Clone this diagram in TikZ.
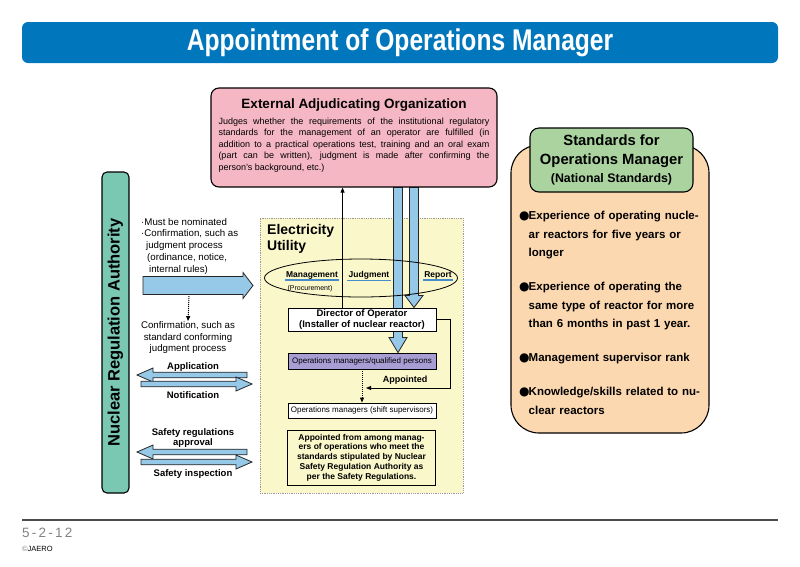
\documentclass[tikz,border=0pt]{standalone}
\usepackage{fontspec}
\setmainfont{Liberation Sans}
\newfontfamily\symfont{DejaVu Sans}
\usetikzlibrary{shapes.geometric, arrows.meta, positioning, calc, backgrounds}
\definecolor{titleBlue}{RGB}{0, 119, 189}
\definecolor{orgPink}{RGB}{245, 183, 195}
\definecolor{nraTeal}{RGB}{122, 199, 178}
\definecolor{utilYellow}{RGB}{250, 247, 202}
\definecolor{qualPurple}{RGB}{168, 158, 212}
\definecolor{stdGreen}{RGB}{170, 211, 160}
\definecolor{stdOrange}{RGB}{252, 216, 176}
\definecolor{flowBlue}{RGB}{150, 200, 232}
\definecolor{lineBlue}{RGB}{70, 140, 200}
\definecolor{footGray}{RGB}{130, 130, 130}

\newcommand{\fsz}[2]{\fontsize{#1}{#2}\selectfont}
% block arrows: from, to, shaft half width, head half width, head length
\newcommand{\fatH}[5]{%
  \draw[fatarrow] let \p1=(#1), \p2=(#2), \n1={sign(\x2-\x1)*#5} in
    (\x1,\y1+#3) -- (\x2-\n1,\y1+#3) -- (\x2-\n1,\y1+#4) -- (\x2,\y1)
    -- (\x2-\n1,\y1-#4) -- (\x2-\n1,\y1-#3) -- (\x1,\y1-#3) -- cycle;}
\newcommand{\fatV}[5]{%
  \draw[fatarrow] let \p1=(#1), \p2=(#2), \n1={sign(\y2-\y1)*#5} in
    (\x1+#3,\y1) -- (\x1+#3,\y2-\n1) -- (\x1+#4,\y2-\n1) -- (\x1,\y2)
    -- (\x1-#4,\y2-\n1) -- (\x1-#3,\y2-\n1) -- (\x1-#3,\y1) -- cycle;}
\newcommand{\stditem}[1]{\par\noindent\hangindent=9.5pt\hangafter=1%
  \makebox[9.5pt][l]{\symfont\fsz{12}{12}●}#1\par}

\tikzset{
    % Boxes
    titlebar/.style={rectangle, rounded corners=6pt, fill=titleBlue,
        minimum width=756pt, minimum height=41pt, text=white,
        font=\fsz{30}{30}\bfseries},
    orgbox/.style={rectangle, rounded corners=8pt, fill=orgPink, draw=black,
        line width=1.1pt, text width=271pt, minimum height=99pt,
        inner xsep=7.5pt, align=justify, font=\fsz{9}{11.5}},
    nrabox/.style={rectangle, rounded corners=5pt, fill=nraTeal, draw=black,
        line width=1.1pt, minimum width=321pt, minimum height=27pt,
        font=\fsz{16.5}{16.5}\bfseries},
    utilbox/.style={rectangle, fill=utilYellow, draw=gray!80, densely dotted,
        line width=0.8pt, minimum width=203pt, minimum height=275pt},
    opbox/.style={rectangle, draw=black, line width=0.9pt, fill=white,
        minimum width=148pt, inner sep=1pt, align=center},
    stdbox/.style={rectangle, rounded corners=28pt, fill=stdOrange, draw=black,
        line width=1.1pt, minimum width=198pt, minimum height=288pt},
    stdhead/.style={rectangle, rounded corners=9pt, fill=stdGreen, draw=black,
        line width=1.1pt, minimum width=163pt, minimum height=64pt,
        align=center, font=\fsz{14.8}{18.5}\bfseries},
    % Labels
    lanelabel/.style={font=\fsz{8.5}{10}\bfseries, inner sep=1pt},
    sidenote/.style={font=\fsz{9.7}{11.7}, inner sep=0pt, align=center},
    sidelabel/.style={font=\fsz{9.5}{10}\bfseries, inner sep=0pt, align=center},
    % Connectors
    fatarrow/.style={fill=flowBlue, draw=black!85, line width=0.8pt, line join=miter},
    thinarrow/.style={-{Triangle[length=5pt, width=4pt]}, line width=0.9pt},
    dotarrow/.style={-{Triangle[length=5pt, width=4pt]}, line width=1pt, densely dotted},
    uline/.style={draw=lineBlue, line width=1.3pt}
}

\begin{document}
\begin{tikzpicture}[x=1pt, y=-1pt]
    \useasboundingbox (0,0) rectangle (800,566);

    % --- Title ---
    \node (title) [titlebar] at (400,42.5)
        {\scalebox{0.82}[1]{Appointment of Operations Manager}};

    % --- External Adjudicating Organization ---
    \node (eao) [orgbox] at (354,137.5) {%
        {\centering\fsz{13.5}{16}\bfseries External Adjudicating Organization\par}
        \vspace{4.5pt}
        Judges whether the requirements of the institutional regulatory\linebreak
        standards for the management of an operator are fulfilled (in\linebreak
        addition to a practical operations test, training and an oral exam\linebreak
        (part can be written), judgment is made after confirming the\linebreak
        person's background, etc.)\par
        \vspace{4pt}\hrule height 0pt};

    % --- Nuclear Regulation Authority ---
    \node (nra) [nrabox, rotate=90] at (115.5,332.5) {Nuclear Regulation Authority};

    % --- Electricity Utility ---
    \node (lane) [ellipse, draw=black, line width=0.8pt,
        minimum width=193pt, minimum height=38pt] at (361,278) {};
    \node (mgmt) [lanelabel] at (312,275) {Management};
    \node (procure) [font=\fsz{7}{8}, inner sep=0pt] at (310,289) {(Procurement)};
    \node (judge) [lanelabel] at (369,275) {Judgment};
    \node (report) [lanelabel] at (438,275) {Report};
    \draw [uline] (mgmt.south west) -- (mgmt.south east);
    \draw [uline] (judge.south west) -- (judge.south east);
    \draw [uline] (report.south west) -- (report.south east);

    \node (director) [opbox, minimum height=23pt, font=\fsz{9.5}{11}\bfseries]
        at (362,319.5) {Director of Operator\\(Installer of nuclear reactor)};
    \node (qualified) [opbox, fill=qualPurple, minimum height=16pt, font=\fsz{8}{9}]
        at (362,361) {Operations managers/qualified persons};
    \node (shift) [opbox, minimum height=15pt, font=\fsz{8}{9}]
        at (362,410.5) {Operations managers (shift supervisors)};
    \node (note) [opbox, fill=utilYellow, minimum height=55pt, font=\fsz{8.5}{9.8}\bfseries]
        at (361.5,457.5) {Appointed from among manag-\\ers of operations who meet the\\
        standards stipulated by Nuclear\\Safety Regulation Authority as\\
        per the Safety Regulations.};

    \coordinate (mgmtX) at ($(director.north west)+(55,0)$);
    \coordinate (judgeX) at (398,0);
    \coordinate (reportX) at (414,0);
    \coordinate (apptEnd) at (366,388);

    \draw [thinarrow] (mgmtX) -- (mgmtX |- eao.south);
    \draw [thinarrow] (director.east) -- ++(14,0) |- (apptEnd);
    \node [font=\fsz{9}{10}\bfseries] at (405,380) {Appointed};
    \draw [dotarrow] (qualified.south) -- (shift.north);

    % --- Left side flows ---
    \node (must) [font=\fsz{9.7}{11.7}, inner sep=0pt, align=left, anchor=north west]
        at (141,218) {·Must be nominated\\·Confirmation, such as\\
        \hspace{5pt}judgment process\\\hspace{6pt}(ordinance, notice,\\
        \hspace{8pt}internal rules)};
    \node (conf) [sidenote] at (188,337.5)
        {Confirmation, such as\\standard conforming\\judgment process};
    \node (appl) [sidelabel] at (193,367) {Application};
    \node (notif) [sidelabel] at (193,395) {Notification};
    \node (sfapp) [sidelabel] at (193,438.5) {Safety regulations\\approval};
    \node (sfins) [sidelabel] at (193,474) {Safety inspection};

    \coordinate (mustL) at (143,285.5);
    \coordinate (mustR) at (253,285.5);
    \coordinate (mustDot) at (189,296);
    \coordinate (applL) at (137,375);
    \coordinate (applR) at (247,375);
    \coordinate (notifL) at (141,384);
    \coordinate (notifR) at (252,384);
    \coordinate (sfappL) at (137,452);
    \coordinate (sfappR) at (247,452);
    \coordinate (sfinsL) at (141,462);
    \coordinate (sfinsR) at (252,462);

    \fatH{mustL}{mustR}{9pt}{13pt}{10pt}
    \draw [dotarrow] (mustDot) -- (conf.north);
    \fatH{applR}{applL}{2.8pt}{7pt}{16pt}
    \fatH{notifL}{notifR}{2.8pt}{7pt}{16pt}
    \fatH{sfappR}{sfappL}{2.8pt}{7pt}{16pt}
    \fatH{sfinsL}{sfinsR}{2.8pt}{7pt}{16pt}

    % --- Standards for Operations Manager ---
    \node (std) [stdbox] at (610,289) {};
    \node (stdtitle) [stdhead] at (611.5,160)
        {Standards for\\Operations Manager\\{\fsz{12.4}{14}(National Standards)}};
    \node (stdlist) [font=\fsz{11.5}{18.5}\bfseries, text width=185pt,
        inner sep=2pt, anchor=north west] at (517,199) {%
        \stditem{Experience of operating nucle-\newline ar reactors for five years or\newline longer}
        \setlength{\parskip}{15.5pt}%
        \stditem{Experience of operating the\newline same type of reactor for more\newline than 6 months in past 1 year.}
        \stditem{Management supervisor rank}
        \stditem{Knowledge/skills related to nu-\newline clear reactors}};

    % --- Footer ---
    \draw [draw=black!70, line width=1.4pt] (22,520) -- (778,520);
    \node (page) [font=\fsz{13.5}{14}, text=footGray, anchor=west, inner sep=0pt]
        at (22,533) {5\,-\,2\,-\,1\,2};
    \node (copy) [font=\fsz{7.5}{8}, anchor=west, inner sep=0pt]
        at (22,549) {\textcolor{footGray}{©}JAERO};

    % --- Background: utility area and flows into it ---
    \begin{scope}[on background layer]
        \node (util) [utilbox] at (361.5,355.5) {};
        \node (utiltext) [font=\fsz{14}{16}\bfseries, align=left, inner sep=0pt,
            anchor=north west] at (267,224) {Electricity\\Utility};
        \fatV{eao.south -| judgeX}{qualified.north -| judgeX}{4.5pt}{9pt}{15pt}
        \fatV{eao.south -| reportX}{director.north -| reportX}{4.5pt}{9pt}{12pt}
    \end{scope}

\end{tikzpicture}
\end{document}
